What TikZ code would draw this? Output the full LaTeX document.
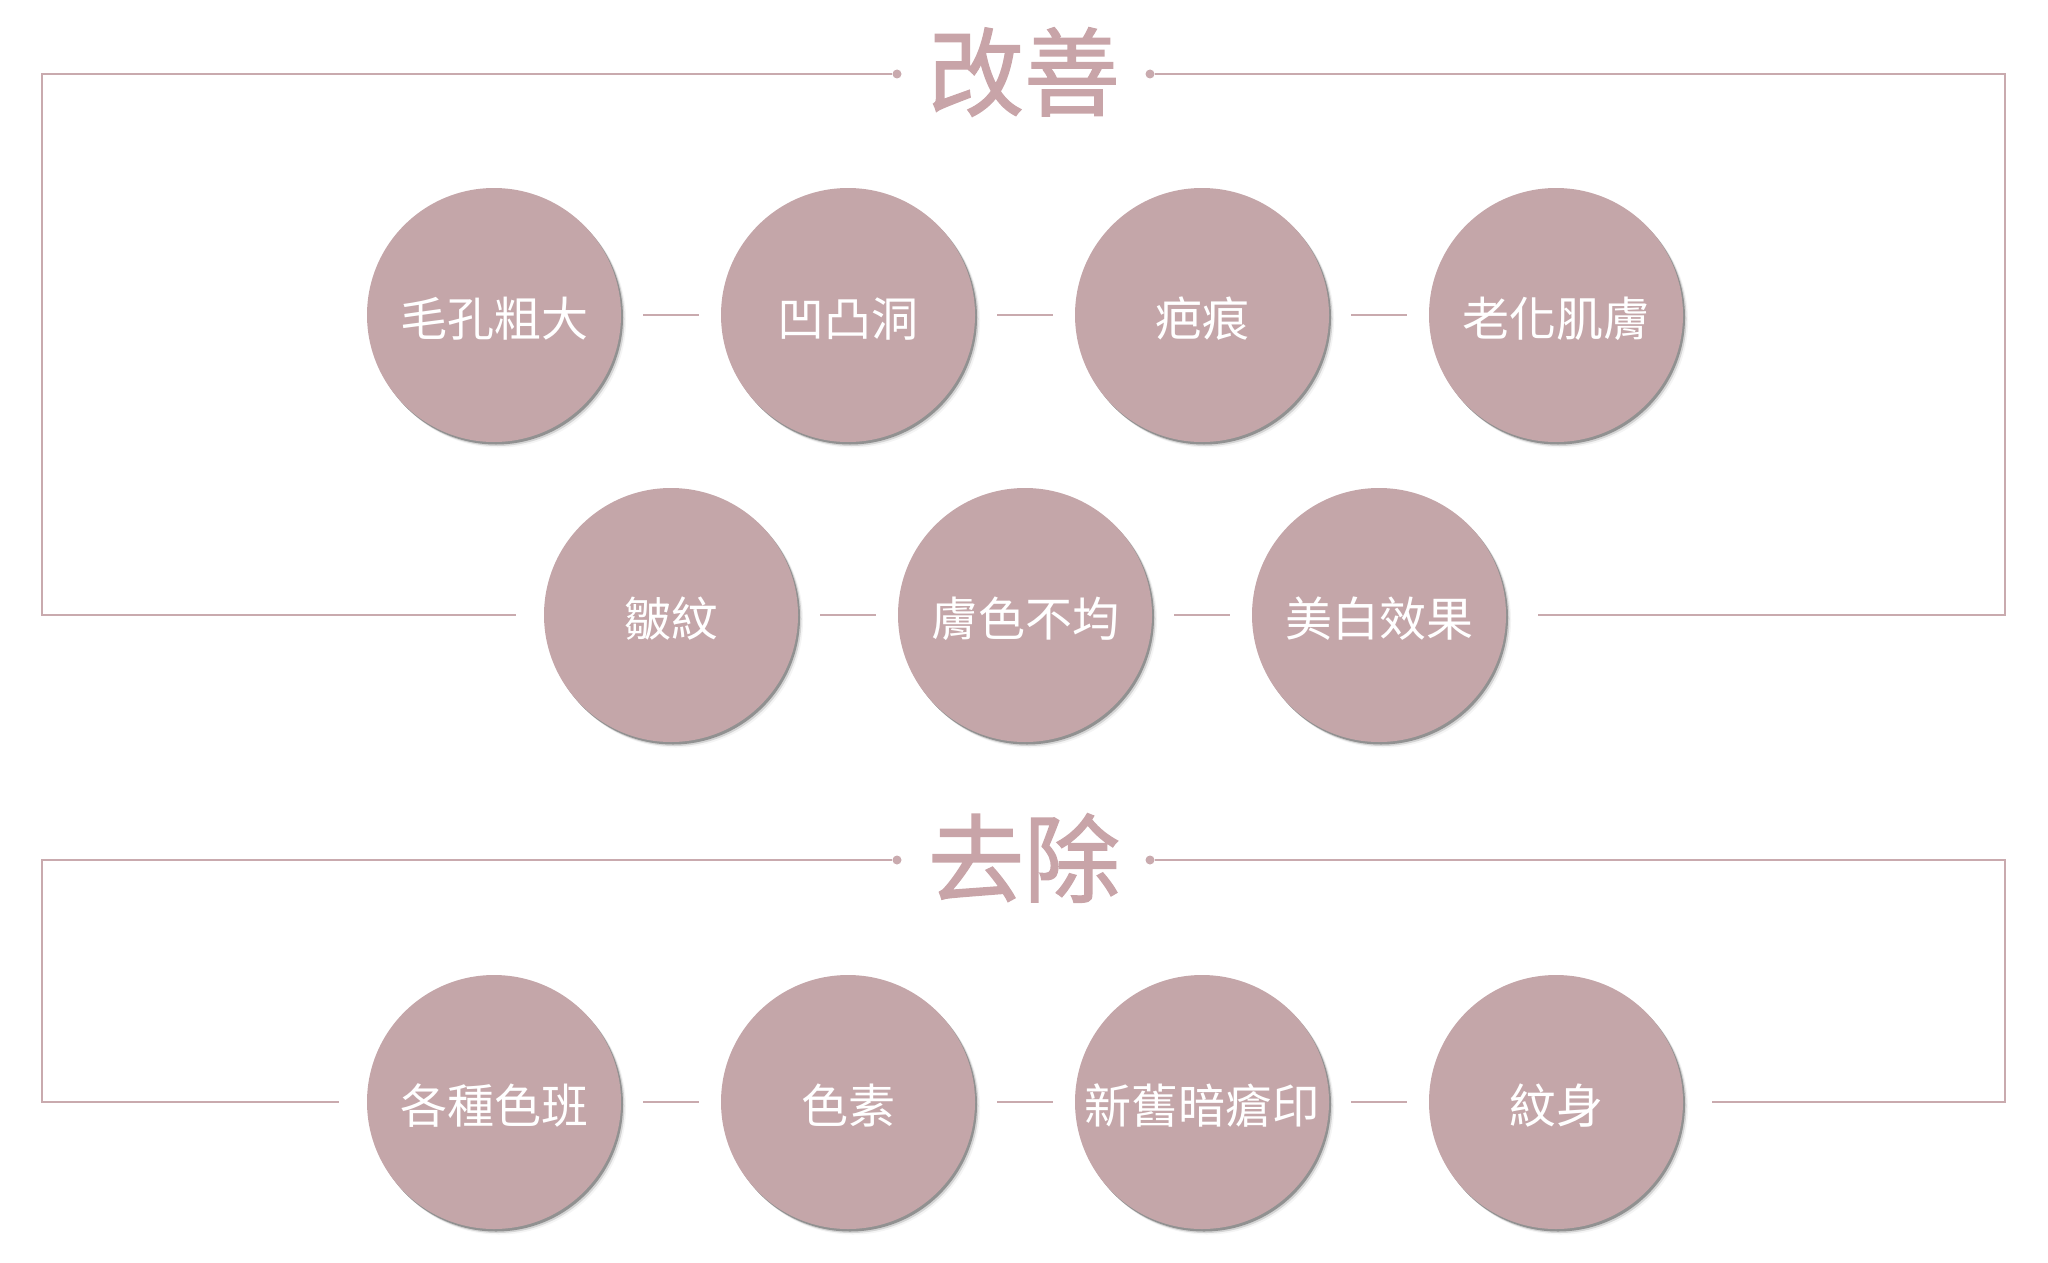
\documentclass[tikz,border=0pt]{standalone}
\usepackage{fontspec}
\setmainfont{Noto Sans CJK TC}
\usepackage{tikz}
\usetikzlibrary{shadows,calc}
\usepackage{xcolor}
\definecolor{rosefill}{HTML}{C4A6A9}
\definecolor{roseline}{HTML}{C9AAAE}
\definecolor{rosetext}{HTML}{C8A4A8}

\tikzset{
  item/.style={circle,fill=rosefill,minimum size=254pt,inner sep=0pt,text=white,
    font=\fontsize{47}{47}\selectfont,text height=45pt,text depth=3pt,
    general shadow={shadow xshift=5pt,shadow yshift=-5.5pt,fill=black!30,opacity=0.15},
    general shadow={shadow xshift=3.5pt,shadow yshift=-4pt,fill=black!40,opacity=0.35},
    general shadow={shadow xshift=2pt,shadow yshift=-2.5pt,fill=black!50,opacity=0.8}},
  link/.style={roseline,line width=2pt,shorten <=22pt,shorten >=22pt},
  frame/.style={roseline,line width=2pt},
  heading/.style={text=rosetext,font=\fontsize{96}{96}\selectfont\addfontfeature{FakeBold=1.5},inner sep=0pt},
  dot/.style={circle,fill=roseline,inner sep=0pt,minimum size=9pt}
}

\begin{document}
\begin{tikzpicture}[x=1pt,y=-1pt]
\useasboundingbox (0,0) rectangle (2048,1263);
% first block
\node[heading] (h1) at (1024,72) {改善};
\node[dot] (d1l) at (897,74) {};
\node[dot] (d1r) at (1150,74) {};
\node[item] (c1) at (494,315) {毛孔粗大};
\node[item] (c2) at (848,315) {凹凸洞};
\node[item] (c3) at (1202,315) {疤痕};
\node[item] (c4) at (1556,315) {老化肌膚};
\node[item] (c5) at (671,615) {皺紋};
\node[item] (c6) at (1025,615) {膚色不均};
\node[item] (c7) at (1379,615) {美白效果};
\draw[link] (c1) -- (c2);
\draw[link] (c2) -- (c3);
\draw[link] (c3) -- (c4);
\draw[link] (c5) -- (c6);
\draw[link] (c6) -- (c7);
\coordinate (f1a) at (42,74);
\coordinate (f1b) at (42,615);
\coordinate (f1c) at (2005,74);
\coordinate (f1d) at (2005,615);
\draw[frame,shorten >=28pt] (d1l) -- (f1a) -- (f1b) -- (c5.west);
\draw[frame,shorten >=32pt] (d1r) -- (f1c) -- (f1d) -- (c7.east);
% second block
\node[heading] (h2) at (1024,858) {去除};
\node[dot] (d2l) at (897,860) {};
\node[dot] (d2r) at (1150,860) {};
\node[item] (e1) at (494,1102) {各種色班};
\node[item] (e2) at (848,1102) {色素};
\node[item] (e3) at (1202,1102) {新舊暗瘡印};
\node[item] (e4) at (1556,1102) {紋身};
\draw[link] (e1) -- (e2);
\draw[link] (e2) -- (e3);
\draw[link] (e3) -- (e4);
\coordinate (f2a) at (42,860);
\coordinate (f2b) at (42,1102);
\coordinate (f2c) at (2005,860);
\coordinate (f2d) at (2005,1102);
\draw[frame,shorten >=28pt] (d2l) -- (f2a) -- (f2b) -- (e1.west);
\draw[frame,shorten >=29pt] (d2r) -- (f2c) -- (f2d) -- (e4.east);
\end{tikzpicture}
\end{document}
